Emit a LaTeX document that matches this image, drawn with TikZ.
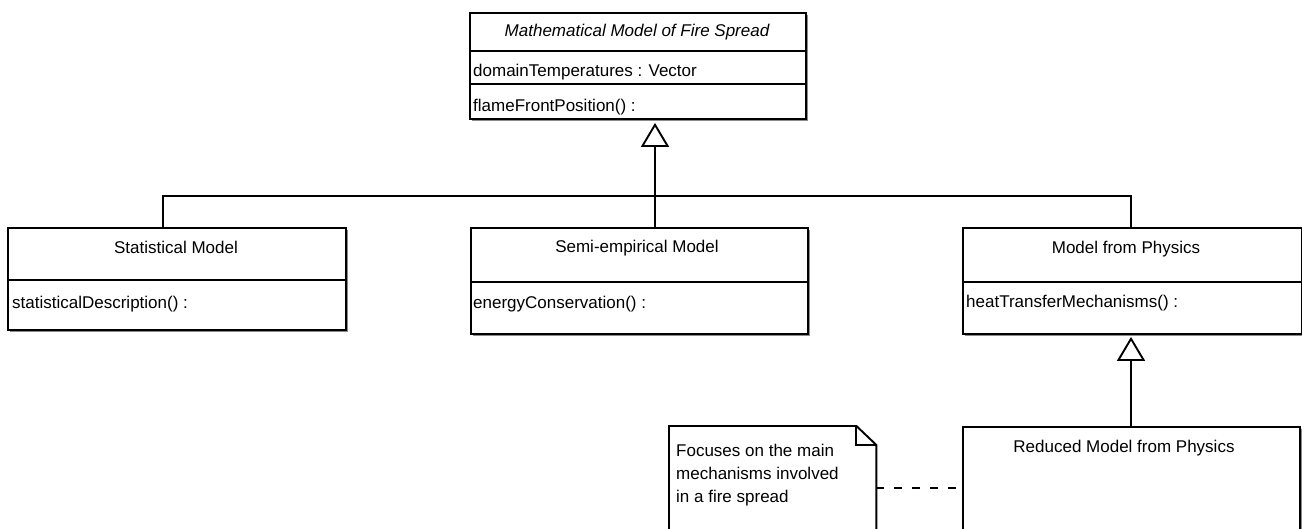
\documentclass[tikz,border=0pt]{standalone}
\usepackage{fontspec}
\setmainfont{Liberation Sans}
\usetikzlibrary{arrows.meta,shadows}
\begin{document}
\begin{tikzpicture}[x=1pt,y=-1pt,
  txt/.style={font=\fontsize{17}{20}\selectfont, inner sep=0pt},
  lbl/.style={txt, anchor=base west},
  ttl/.style={txt, anchor=base},
  umlbox/.style={draw, line width=1.9pt, fill=white, rectangle, inner sep=0pt,
    anchor=north west,
    drop shadow={shadow xshift=2pt, shadow yshift=-2pt, fill=black!45, opacity=1}},
  notebox/.style={rectangle, inner sep=0pt, anchor=north west},
  wire/.style={line width=1.9pt},
  gen/.style={wire, -{Triangle[open, length=24pt, width=28pt]}},
]
\useasboundingbox (0,0) rectangle (1302,528);

% abstract base class
\node[umlbox, minimum width=336pt, minimum height=106pt] (top) at (469,12) {};
\draw[wire] (469,51) -- (805,51);
\draw[wire] (469,84) -- (805,84);
\node[ttl, font=\fontsize{17}{20}\selectfont\itshape] (topname) at (637,36) {Mathematical Model of Fire Spread};
\node[lbl] (topattr) at (473,76) {domainTemperatures : Vector};
\node[lbl] (topop) at (473,111) {flameFrontPosition() :};

% statistical model
\node[umlbox, minimum width=338pt, minimum height=102pt] (stat) at (7,227) {};
\draw[wire] (7,280) -- (345,280);
\node[ttl] (statname) at (176,253) {Statistical Model};
\node[lbl] (statop) at (12,308) {statisticalDescription() :};

% semi-empirical model
\node[umlbox, minimum width=337pt, minimum height=106pt] (semi) at (470,227) {};
\draw[wire] (470,282) -- (807,282);
\node[ttl] (seminame) at (637,252) {Semi-empirical Model};
\node[lbl] (semiop) at (473,308) {energyConservation() :};

% model from physics
\node[umlbox, minimum width=339pt, minimum height=106pt] (phys) at (962,227) {};
\draw[wire] (962,282) -- (1301,282);
\node[ttl] (physname) at (1126,253) {Model from Physics};
\node[lbl] (physop) at (966,307) {heatTransferMechanisms() :};

% reduced model from physics
\node[umlbox, minimum width=337pt, minimum height=150pt] (red) at (962,426) {};
\node[ttl] (redname) at (1124,452) {Reduced Model from Physics};

% note with folded corner
\node[notebox, minimum width=207pt, minimum height=150pt] (note) at (669,426) {};
\draw[wire, fill=white] (note.south west) -- (note.north west)
  -- ([xshift=-20pt]note.north east) -- ([yshift=-19pt]note.north east)
  -- (note.south east);
\draw[wire] ([xshift=-20pt]note.north east) -- ([xshift=-20pt,yshift=-19pt]note.north east)
  -- ([yshift=-19pt]note.north east);
\node[lbl] (note1) at (676,456) {Focuses on the main};
\node[lbl] (note2) at (676,479) {mechanisms involved};
\node[lbl] (note3) at (676,502) {in a fire spread};

% generalization tree
\coordinate (bus) at (655,196);
\coordinate (statx) at (163,0);
\coordinate (physx) at (1131,0);
\draw[wire] (stat.north -| statx) |- (bus);
\draw[wire] (phys.north -| physx) |- (bus);
\draw[gen] (semi.north -| bus) -- ([yshift=-3pt]top.south -| bus);
\draw[gen] (red.north -| physx) -- ([yshift=-2pt]phys.south -| physx);

% note anchor line
\coordinate (dashy) at (0,488);
\draw[wire, dash pattern=on 8pt off 10pt] (note.east |- dashy) -- (red.west |- dashy);
\end{tikzpicture}
\end{document}
